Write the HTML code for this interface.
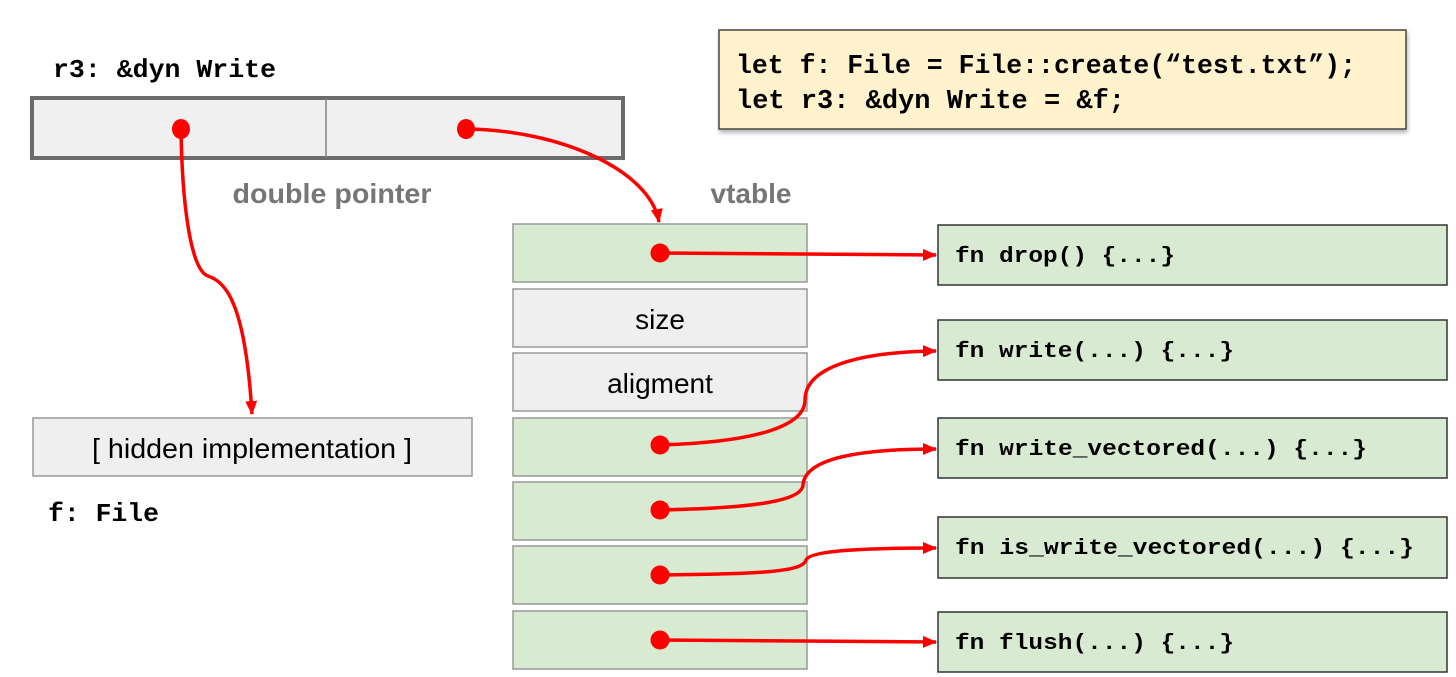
<!DOCTYPE html>
<html><head><meta charset="utf-8"><style>html,body{margin:0;padding:0;background:#fff;}svg{display:block}</style></head>
<body>
<svg width="1456" height="677" viewBox="0 0 1456 677" xmlns="http://www.w3.org/2000/svg">
<defs>
<marker id="ah" markerWidth="14" markerHeight="12" refX="13" refY="6" orient="auto" markerUnits="userSpaceOnUse" viewBox="0 0 14 12">
<path d="M0,0 L14,6 L0,12 z" fill="#ff0000"/></marker>
<filter id="sh" x="-5%" y="-5%" width="110%" height="120%"><feDropShadow dx="1" dy="3" stdDeviation="2" flood-color="#000" flood-opacity="0.3"/></filter>
</defs>
<g font-family="'Liberation Mono', monospace" font-weight="bold" fill="#000">
<text x="53" y="77" font-size="26" textLength="223" lengthAdjust="spacingAndGlyphs">r3: &amp;dyn Write</text>
<text x="48" y="521" font-size="26" textLength="111" lengthAdjust="spacingAndGlyphs">f: File</text>
</g>
<rect x="32" y="98" width="591" height="60" fill="#f0f0f0" stroke="#6b6b6b" stroke-width="4"/>
<line x1="326" y1="98" x2="326" y2="158" stroke="#808080" stroke-width="1.5"/>
<text x="332" y="203" font-family="'Liberation Sans',sans-serif" font-weight="bold" font-size="28" fill="#767676" text-anchor="middle" textLength="199" lengthAdjust="spacingAndGlyphs">double pointer</text>
<text x="751" y="203" font-family="'Liberation Sans',sans-serif" font-weight="bold" font-size="28" fill="#767676" text-anchor="middle">vtable</text>

<rect x="719" y="30" width="687" height="99" fill="#fff2cc" stroke="#444" stroke-width="1.5" filter="url(#sh)"/>
<g font-family="'Liberation Mono', monospace" font-weight="bold" font-size="27" fill="#000">
<text x="736" y="73" textLength="620" lengthAdjust="spacingAndGlyphs">let f: File = File::create(“test.txt”);</text>
<text x="736" y="108" textLength="389" lengthAdjust="spacingAndGlyphs">let r3: &amp;dyn Write = &amp;f;</text>
</g>

<rect x="33" y="418" width="439" height="58" fill="#efefef" stroke="#999" stroke-width="1.5"/>
<text x="252" y="458" font-family="'Liberation Sans',sans-serif" font-size="28" text-anchor="middle" fill="#000" textLength="320" lengthAdjust="spacingAndGlyphs">[ hidden implementation ]</text>

<g stroke="#999" stroke-width="1.5">
<rect x="513" y="224" width="294" height="58" fill="#d9ead3"/>
<rect x="513" y="289" width="294" height="58" fill="#efefef"/>
<rect x="513" y="353" width="294" height="58" fill="#efefef"/>
<rect x="513" y="418" width="294" height="58" fill="#d9ead3"/>
<rect x="513" y="482" width="294" height="58" fill="#d9ead3"/>
<rect x="513" y="546" width="294" height="58" fill="#d9ead3"/>
<rect x="513" y="611" width="294" height="58" fill="#d9ead3"/>
</g>
<g font-family="'Liberation Sans',sans-serif" font-size="28" text-anchor="middle" fill="#000">
<text x="660" y="329">size</text>
<text x="660" y="393">aligment</text>
</g>

<g fill="#d9ead3" stroke="#333" stroke-width="1.5">
<rect x="938" y="225" width="509" height="60"/>
<rect x="938" y="320" width="509" height="60"/>
<rect x="938" y="418" width="509" height="60"/>
<rect x="938" y="517" width="509" height="61"/>
<rect x="938" y="612" width="509" height="60"/>
</g>
<g font-family="'Liberation Mono', monospace" font-weight="bold" font-size="22" fill="#000">
<text x="955" y="262" textLength="220" lengthAdjust="spacingAndGlyphs">fn drop() {...}</text>
<text x="955" y="357" textLength="279" lengthAdjust="spacingAndGlyphs">fn write(...) {...}</text>
<text x="955" y="455" textLength="412" lengthAdjust="spacingAndGlyphs">fn write_vectored(...) {...}</text>
<text x="955" y="554" textLength="459" lengthAdjust="spacingAndGlyphs">fn is_write_vectored(...) {...}</text>
<text x="955" y="649" textLength="279" lengthAdjust="spacingAndGlyphs">fn flush(...) {...}</text>
</g>

<g fill="none" stroke="#ff0000" stroke-width="3.5">
<path d="M181,129 C182,200 190,270 208,276 C225,282 245,300 252,414" marker-end="url(#ah)"/>
<path d="M466,129 C560,130 650,170 659,222" marker-end="url(#ah)"/>
<path d="M660,253 L800,254 L936,255" marker-end="url(#ah)"/>
<path d="M660,445 C760,442 805,425 805,400 C805,370 850,352 936,351" marker-end="url(#ah)"/>
<path d="M660,510 C760,508 802,500 803,485 C805,458 860,449 936,449" marker-end="url(#ah)"/>
<path d="M660,575 C760,574 803,572 806,560 C810,550 870,548 936,548" marker-end="url(#ah)"/>
<path d="M660,640 L800,641 L936,642" marker-end="url(#ah)"/>
</g>
<g fill="#ff0000">
<ellipse cx="181" cy="129" rx="9" ry="10"/>
<ellipse cx="466" cy="129" rx="9" ry="10"/>
<circle cx="660" cy="253" r="9.5"/>
<circle cx="660" cy="445" r="9.5"/>
<circle cx="660" cy="510" r="9.5"/>
<circle cx="660" cy="575" r="9.5"/>
<circle cx="660" cy="640" r="9.5"/>
</g>
</svg>
</body></html>
